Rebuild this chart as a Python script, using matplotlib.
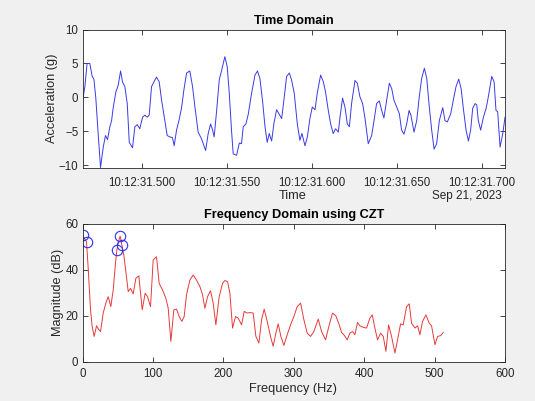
import matplotlib
matplotlib.use("Agg")
import matplotlib.pyplot as plt
from matplotlib.ticker import FuncFormatter

# ---- Time domain data (time in ms after 10:12:31, acceleration in g)
t_ms = [465.3, 466.7, 468.0, 469.6, 471.0, 472.0, 473.1, 474.5, 475.9, 477.5,
        478.8, 480.0, 481.4, 482.4, 483.3, 484.9, 486.3, 487.7, 488.8, 490.2,
        491.6, 492.8, 494.7, 496.1, 497.5, 499.0, 500.6, 502.0, 503.3, 504.5,
        505.9, 507.3, 508.8, 510.4, 511.8, 513.7, 515.1, 516.7, 518.2, 519.2,
        520.6, 522.0, 523.5, 524.9, 526.5, 528.4, 530.0, 531.4, 533.3, 535.3,
        537.7, 539.2, 540.6, 541.8, 542.7, 544.1, 545.7, 547.1, 549.0, 550.4,
        551.6, 552.9, 553.9, 555.9, 557.5, 558.8, 559.8, 561.4, 562.8, 564.7,
        566.7, 568.2, 569.6, 571.2, 572.6, 573.9, 575.1, 576.5, 577.8, 579.4,
        580.8, 582.4, 583.7, 585.3, 586.9, 588.2, 589.8, 591.6, 593.1, 594.3,
        596.1, 597.5, 599.0, 600.4, 602.0, 603.3, 605.3, 606.9, 608.2, 609.8,
        611.2, 612.7, 614.1, 615.7, 616.7, 618.2, 619.6, 621.0, 622.2, 623.5,
        625.5, 626.9, 628.4, 630.0, 631.4, 633.3, 635.3, 636.7, 638.2, 639.8,
        641.2, 642.5, 644.1, 645.7, 647.1, 648.4, 650.0, 651.6, 652.9, 654.3,
        655.9, 657.3, 658.4, 660.2, 661.8, 663.3, 664.7, 666.3, 667.7, 669.2,
        670.6, 672.0, 673.5, 675.1, 677.1, 678.4, 679.8, 681.8, 683.3, 684.9,
        686.5, 687.9, 689.2, 690.8, 692.2, 693.5, 694.7, 696.1, 697.1, 698.0,
        699.4, 701.0, 702.6, 703.9, 705.9, 707.3, 708.4, 709.4, 710.8, 712.4,
        713.7]
accel = [-0.6, 1.6, 5.0, 5.0, 3.1, 2.7, 0.0, -5.3, -10.3, -7.3,
         -5.6, -6.2, -4.3, -3.4, -1.6, 0.8, 1.8, 3.9, 2.3, 1.6,
         -0.9, -6.6, -7.4, -4.3, -4.0, -4.6, -2.9, -2.6, -2.9, -2.6,
         1.6, 2.3, 3.0, 2.3, -0.4, -3.4, -5.6, -5.8, -5.9, -7.1,
         -4.8, -3.4, -1.6, 1.1, 3.6, 3.9, 1.6, -1.4, -5.1, -6.1,
         -7.8, -5.3, -3.9, -4.8, -5.8, -2.1, 2.6, 4.0, 6.0, 4.5,
         0.6, -4.8, -8.3, -8.5, -6.7, -6.8, -4.3, -3.9, -2.4, 0.6,
         3.3, 3.9, 2.8, -0.6, -4.3, -6.6, -5.3, -6.4, -3.9, -1.8,
         -2.4, -3.1, -0.4, 3.1, 3.6, 2.6, 0.6, -3.9, -6.3, -5.3,
         -7.1, -5.8, -3.1, -1.4, -1.8, 0.6, 3.3, 2.3, 0.8, -1.9,
         -3.9, -5.3, -4.6, -5.1, -2.9, -0.1, -1.4, -3.9, -4.3, -0.9,
         2.5, 2.1, 0.1, -0.9, -3.1, -6.8, -5.6, -3.4, -0.9, -0.5,
         -1.9, -3.0, -0.4, 2.1, 1.3, -0.4, -1.4, -2.4, -4.8, -5.4,
         -3.9, -1.9, -2.6, -5.1, -3.4, 0.1, 2.8, 4.3, 2.8, -1.4,
         -4.8, -7.6, -6.8, -3.4, -1.5, -3.4, -3.6, -2.4, -0.4, 1.6,
         2.7, 1.3, -1.6, -4.8, -6.4, -4.8, -1.6, -0.9, -1.1, -3.4,
         -4.8, -2.9, -1.6, 0.1, 3.1, 2.3, -1.9, -2.1, -7.3, -5.3,
         -2.9]
time_ticks_ms = [500, 550, 600, 650, 700]
time_ticks_y = [-10, -5, 0, 5, 10]
date_label = "Sep 21, 2023"

# ---- Frequency domain data (Hz, dB)
freq = [0, 5.7, 8, 11.4, 13.7, 16.6, 19.9, 23.2, 25.6, 29.4,
        33.1, 36.5, 40.2, 43.6, 46.4, 48.8, 51.6, 53.5, 55.9, 58.7,
        61.6, 64.9, 68.2, 72, 75.8, 80, 84.8, 89, 92.3, 96.6,
        100.4, 105.1, 108.9, 113.6, 118.4, 121.7, 125.5, 129.7, 133.5, 137.3,
        141.1, 144.4, 147.7, 152.5, 157.2, 161.9, 166.7, 170.5, 173.8, 177.6,
        181.8, 185.6, 189.4, 194.1, 198.9, 202.2, 206, 209.3, 213.1, 217.3,
        221.1, 225.9, 229.6, 233.9, 237.7, 242.4, 246.2, 250.5, 254.3, 258,
        262.3, 267, 270.8, 274.6, 277.9, 281.7, 286, 290.7, 295.5, 300.2,
        304.9, 309.7, 314.4, 319.1, 323.9, 328.6, 334.8, 339.5, 345.2, 350.4,
        355.1, 359.8, 364.6, 367.9, 371.2, 375.9, 379.7, 383.5, 386.8, 390.6,
        393.9, 398.7, 403.4, 408.1, 411.5, 415.2, 419, 423.3, 427.1, 430.9,
        434.7, 438.9, 443.7, 447.4, 451.7, 455.5, 460.2, 464, 467.3, 472.1,
        475.9, 479.2, 482.9, 487.7, 492.4, 495.7, 500.5, 504.3, 508.5, 512.3]
mag_db = [55, 52, 41, 22.6, 15.4, 11.1, 15.7, 14, 13.2, 21.2,
          25.5, 28.3, 24, 31.2, 41.3, 48.5, 52.8, 54.5, 50.6, 46.3,
          39.1, 30.5, 31.9, 29.5, 36.3, 37.3, 22.6, 29.8, 28.3, 24,
          44.2, 45.6, 34.1, 31.2, 27.6, 23.3, 8.9, 22.6, 22.9, 19.7,
          17.6, 19.7, 29.1, 35.5, 37.7, 35.5, 32.7, 29.1, 23.3, 28.3,
          30.9, 25.5, 16.1, 28.3, 34.1, 35.3, 34.8, 29.8, 14.7, 19.7,
          19, 16.1, 21.9, 21.2, 21.4, 21.2, 11.1, 8.2, 18.3, 22.9,
          17.6, 11.1, 6.8, 12.5, 16.5, 11.1, 7.2, 11.8, 16.1, 19.7,
          24, 25.5, 18.3, 12.5, 11.1, 13.2, 18.6, 13.2, 9.6, 16.1,
          21.2, 20, 16.1, 12.8, 11.8, 9.6, 12.5, 13.2, 11.8, 17.1,
          15.7, 15, 14.7, 19, 20.4, 14.7, 9.6, 12.5, 11.1, 4.6,
          16.1, 11.1, 3.9, 9.6, 16.5, 16.1, 24, 25.2, 16.8, 14.7,
          15.7, 11.8, 17.6, 20.4, 16.8, 15.7, 7.5, 11.1, 11.4, 12.8]
peak_freq = [0, 5.7, 48.8, 53.5, 55.9]
peak_db = [55, 52, 48.5, 54.5, 50.6]
freq_ticks = [0, 100, 200, 300, 400, 500, 600]
mag_ticks = [0, 20, 40, 60]

W, H = 535, 401
plt.rcParams['font.family'] = ['Liberation Sans', 'DejaVu Sans']
fig = plt.figure(figsize=(W / 100, H / 100), dpi=100, facecolor='#f0f0f0')

txt = '#262626'
axc = '#262626'
FS = 8.3
LFS = 9.2

def style(ax):
    ax.set_facecolor('white')
    for s in ax.spines.values():
        s.set_color(axc)
        s.set_linewidth(0.6)
    ax.tick_params(direction='in', length=3.5, width=0.6, colors=axc,
                   labelcolor=txt, labelsize=FS, top=True, right=True, pad=3)

def rect(l, t, r, b):
    return [l / W, 1 - b / H, (r - l) / W, (b - t) / H]

def place_label(label, x, y):
    label.set_transform(fig.transFigure)
    label.set_position((x / W, 1 - y / H))

# Top axes
ax1 = fig.add_axes(rect(82.5, 29.5, 505, 167.5))
style(ax1)
ax1.tick_params(axis='x', pad=7)
ax1.plot(t_ms, accel, color='#3a3ae6', lw=0.7)
ax1.set_xlim(t_ms[0], t_ms[-1])
ax1.set_ylim(-10.3, 10)
ax1.set_xticks(time_ticks_ms)
ax1.set_yticks(time_ticks_y)
ax1.xaxis.set_major_formatter(FuncFormatter(lambda v, p: "10:12:31.%03d" % round(v)))
ax1.set_title("Time Domain", fontsize=9.2, fontweight='bold', color='black', pad=4)
ax1.set_ylabel("Acceleration (g)", fontsize=LFS, color=txt, va='center')
ax1.yaxis.set_label_coords(52 / W, 1 - 98 / H, transform=fig.transFigure)
ax1.set_xlabel("Time", fontsize=LFS, color=txt, va='center')
ax1.xaxis.set_label_coords(293 / W, 1 - 196 / H, transform=fig.transFigure)
ax1.text(502 / W, 1 - 196 / H, date_label, transform=fig.transFigure,
         ha='right', va='center', fontsize=FS + 0.2, color=txt)

# Bottom axes
ax2 = fig.add_axes(rect(82.5, 223.5, 505, 362))
style(ax2)
ax2.tick_params(axis='x', pad=4)
ax2.plot(freq, mag_db, color='#e63a3a', lw=0.7)
ax2.plot(peak_freq, peak_db, 'o', mfc='none', mec='#3030f0', mew=0.8, ms=7.5)
ax2.set_xlim(0, 600)
ax2.set_ylim(0, 60)
ax2.set_xticks(freq_ticks)
ax2.set_yticks(mag_ticks)
ax2.set_title("Frequency Domain using CZT", fontsize=9.2, fontweight='bold', color='black', pad=4)
ax2.set_ylabel("Magnitude (dB)", fontsize=LFS, color=txt, va='center')
ax2.yaxis.set_label_coords(58 / W, 1 - 292 / H, transform=fig.transFigure)
ax2.set_xlabel("Frequency (Hz)", fontsize=LFS, color=txt, va='center')
ax2.xaxis.set_label_coords(293 / W, 1 - 389 / H, transform=fig.transFigure)

fig.savefig("out.png", dpi=100, facecolor=fig.get_facecolor())
